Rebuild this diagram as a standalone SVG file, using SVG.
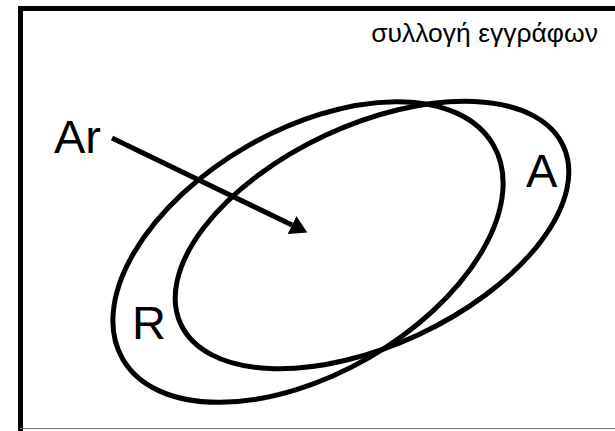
<svg xmlns="http://www.w3.org/2000/svg" width="615" height="431" viewBox="0 0 615 431">
<style>
.set{fill:none;stroke:#000;stroke-width:5}
.lbl{font-family:"Liberation Sans",Arial,sans-serif;fill:#000}
.big{font-size:47px}
.cap{font-size:26.5px}
</style>
<defs>
<marker id="ah" markerWidth="4" markerHeight="4" refX="0" refY="2" orient="auto" markerUnits="strokeWidth">
<path d="M0,0 L3.4,2 L0,4 Z" fill="#000"/>
</marker>
</defs>
<rect x="0" y="0" width="615" height="431" fill="#fff"/>
<g id="frame">
<path d="M20.5,431 L20.5,8.5 L620,8.5" fill="none" stroke="#000" stroke-width="5"/>
<line x1="20" y1="428.5" x2="615" y2="428.5" stroke="#777" stroke-width="1"/>
<text class="lbl cap" x="598" y="42" text-anchor="end">συλλογή εγγράφων</text>
</g>
<g id="R">
<ellipse class="set" cx="308" cy="252" rx="214" ry="122" transform="rotate(-30 308 252)"/>
<text class="lbl big" x="132" y="339">R</text>
</g>
<g id="A">
<ellipse class="set" cx="372" cy="235" rx="211" ry="110" transform="rotate(-25 372 235)"/>
<text class="lbl big" x="526" y="187">A</text>
</g>
<g id="Ar">
<text class="lbl big" x="54" y="153">Ar</text>
</g>
<g id="connectors">
<line x1="112" y1="138" x2="292" y2="225" stroke="#000" stroke-width="5" marker-end="url(#ah)"/>
</g>
</svg>
